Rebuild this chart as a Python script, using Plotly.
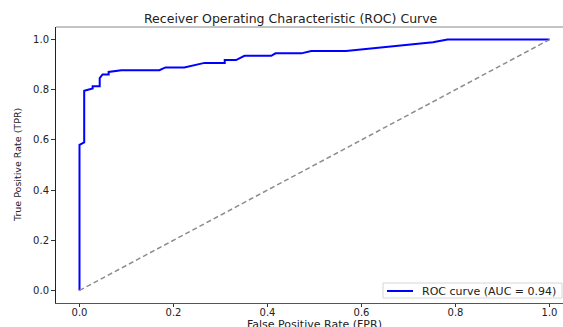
import plotly.graph_objects as go

# ROC curve points
fpr = [0.0, 0.0, 0.01, 0.01, 0.028, 0.028, 0.043, 0.043, 0.049, 0.062, 0.062, 0.089,
       0.17, 0.183, 0.223, 0.266, 0.309, 0.309, 0.333, 0.351, 0.408, 0.417, 0.472,
       0.493, 0.567, 0.752, 0.783, 1.0]
tpr = [0.0, 0.58, 0.59, 0.796, 0.805, 0.814, 0.814, 0.846, 0.861, 0.861, 0.871, 0.878,
       0.878, 0.889, 0.889, 0.907, 0.907, 0.918, 0.918, 0.935, 0.935, 0.945, 0.945,
       0.954, 0.954, 0.989, 1.0, 1.0]
diag_x = [0.0, 1.0]
diag_y = [0.0, 1.0]
auc_label = "ROC curve (AUC = 0.94)"
tick_vals = [0.0, 0.2, 0.4, 0.6, 0.8, 1.0]

W, H = 563, 327
ML, MR, MT, MB = 56, 0, 27, 24
pw = W - ML - MR
ph = H - MT - MB
px_per_x = 470.0
xr = [-0.05, -0.05 + pw / px_per_x]

font = "DejaVu Sans"


def px_x(p):
    return (p - ML) / pw


def px_y(p):
    return (H - MB - p) / ph


fig = go.Figure()
fig.add_trace(go.Scatter(x=fpr, y=tpr, mode="lines", name=auc_label, showlegend=False,
                         line=dict(color="#0000ff", width=2)))
fig.add_trace(go.Scatter(x=diag_x, y=diag_y, mode="lines", showlegend=False,
                         line=dict(color="#8c8c8c", width=1.5, dash="5px,3px")))

fig.update_layout(
    width=W, height=H,
    margin=dict(l=ML, r=MR, t=MT, b=MB),
    paper_bgcolor="white", plot_bgcolor="white",
    font=dict(family=font, size=10, color="#222"),
    showlegend=False,
    xaxis=dict(range=xr, tickvals=tick_vals, tickformat=".1f", ticks="outside",
               ticklen=3, tickcolor="#333", showgrid=False, zeroline=False,
               showline=True, linecolor="#555", linewidth=1,
               ticklabelstandoff=-3,
               tickfont=dict(size=10)),
    yaxis=dict(range=[-0.05, 1.05], tickvals=tick_vals, tickformat=".1f", ticks="outside",
               ticklen=4, tickcolor="#333", showgrid=False, zeroline=False,
               showline=True, linecolor="#222", linewidth=1,
               tickfont=dict(size=10)),
    annotations=[
        dict(text="Receiver Operating Characteristic (ROC) Curve", xref="paper", yref="paper",
             x=px_x(291), y=px_y(18), xanchor="center", yanchor="middle",
             showarrow=False, font=dict(size=12.5, color="#222")),
        dict(text="False Positive Rate (FPR)", xref="paper", yref="paper",
             x=px_x(314), y=px_y(324), xanchor="center", yanchor="middle",
             showarrow=False, font=dict(size=11, color="#222")),
        dict(text="True Positive Rate (TPR)", xref="paper", yref="paper", textangle=-90,
             x=px_x(17), y=0.5, xanchor="center", yanchor="middle",
             showarrow=False, font=dict(size=9.5, color="#222")),
        # legend text
        dict(text=auc_label, xref="paper", yref="paper",
             x=px_x(420), y=px_y(291), xanchor="left", yanchor="middle",
             showarrow=False, font=dict(size=11, color="#222")),
    ],
    shapes=[
        dict(type="line", xref="paper", yref="paper", x0=0, x1=1, y0=1, y1=1,
             line=dict(color="#b0b0b0", width=1.5)),
        # legend box and sample line
        dict(type="rect", xref="paper", yref="paper",
             x0=px_x(383), x1=px_x(562), y0=px_y(298), y1=px_y(283),
             fillcolor="white", line=dict(color="#d6d6d6", width=1), layer="above"),
        dict(type="line", xref="paper", yref="paper",
             x0=px_x(387), x1=px_x(413), y0=px_y(291), y1=px_y(291),
             line=dict(color="#0000ff", width=2), layer="above"),
    ],
)

fig.write_html("out.html")
